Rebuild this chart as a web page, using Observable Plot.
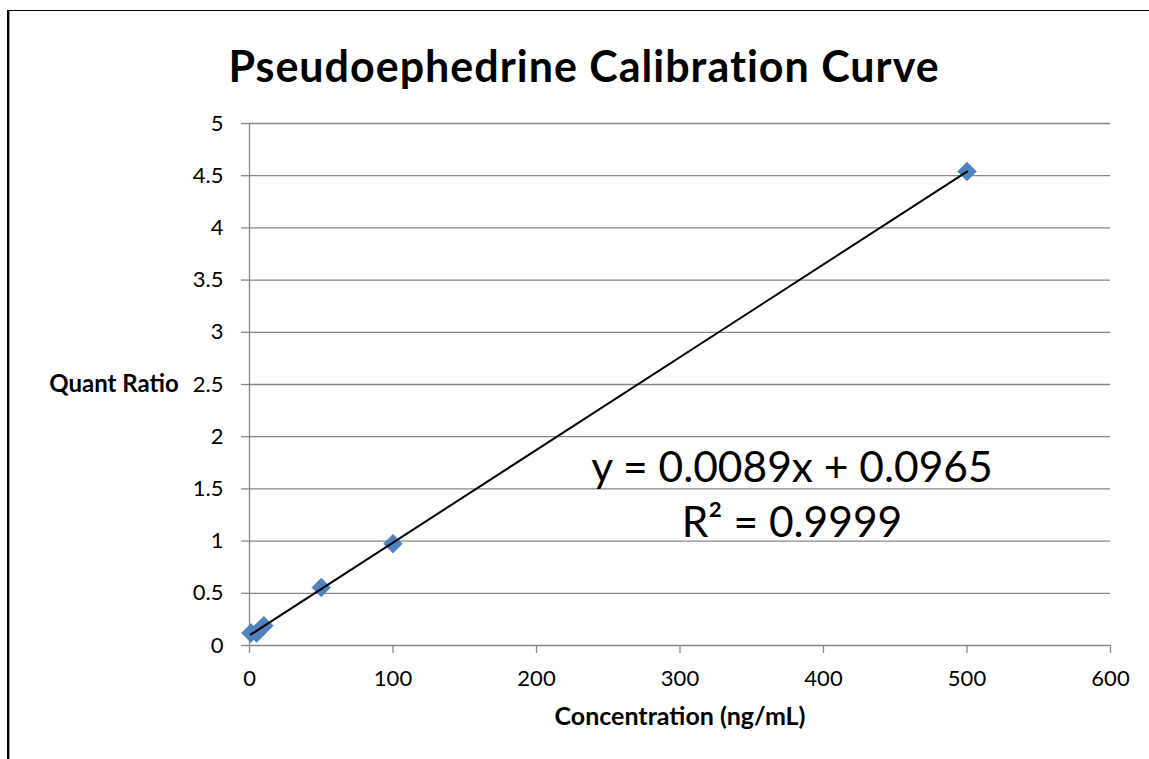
<!DOCTYPE html>
<html>
<head>
<meta charset="utf-8">
<script src="https://cdn.jsdelivr.net/npm/d3@7"></script>
<script src="https://cdn.jsdelivr.net/npm/@observablehq/plot@0.6"></script>
<style>
  html, body { margin: 0; padding: 0; background: #fff; overflow: hidden; }
  #wrap { position: absolute; left: 0; top: 0; width: 1149px; height: 759px; }
  #frame { position: absolute; left: 7px; top: 10px; width: 1200px; height: 800px;
           border-left: 2px solid #000; border-top: 1.5px solid #000; box-shadow: inset 1px 0 0 #999; }
  #chart { position: absolute; left: 0; top: 0; }
</style>
</head>
<body>
<div id="wrap"><div id="frame"></div><div id="chart"></div></div>
<script>
const concentration = [1, 5, 10, 50, 100, 500];
const quantRatio = [0.12, 0.12, 0.19, 0.555, 0.975, 4.54];
const xTicks = [0, 100, 200, 300, 400, 500, 600];
const yTicks = [0, 0.5, 1, 1.5, 2, 2.5, 3, 3.5, 4, 4.5, 5];
const title = "Pseudoephedrine Calibration Curve";
const xLabel = "Concentration (ng/mL)";
const yLabel = "Quant Ratio";
const equation = "y = 0.0089x + 0.0965";
const r2 = "R² = 0.9999";

const data = concentration.map((c, i) => ({x: c, y: quantRatio[i]}));
const font = "Lato, 'Open Sans', sans-serif";
const gray = "#878787";

const chart = Plot.plot({
  width: 1149,
  height: 759,
  marginLeft: 249,
  marginRight: 39,
  marginTop: 123,
  marginBottom: 114,
  style: {fontFamily: font, background: "transparent", overflow: "visible"},
  x: {domain: [0, 600]},
  y: {domain: [0, 5]},
  marks: [
    Plot.gridY(yTicks, {stroke: gray, strokeOpacity: 1, strokeWidth: 1.3}),
    Plot.ruleX([0], {stroke: gray, strokeWidth: 1.3}),
    Plot.axisY(yTicks, {tickSize: 8, tickPadding: 18, stroke: gray, strokeWidth: 1.3, fontSize: 22, fill: "#000", label: null, tickFormat: d => String(d)}),
    Plot.axisX(xTicks, {tickSize: 8, tickPadding: 17, stroke: gray, strokeWidth: 1.3, fontSize: 22, fill: "#000", label: null, tickFormat: d => String(d)}),
    Plot.dot(data, {x: "x", y: "y", symbol: "diamond2", r: 8.5, fill: "#4F81BD", stroke: "#4A7EBB", strokeWidth: 0.5}),
    Plot.linearRegressionY(data, {x: "x", y: "y", ci: 0, stroke: "#000", strokeWidth: 2}),
    Plot.text([title], {frameAnchor: "top", dx: -96, dy: -72, fontSize: 43, fontWeight: "bold", fill: "#000"}),
    Plot.text([yLabel], {frameAnchor: "left", dx: -135.5, fontSize: 24, fontWeight: "bold", fill: "#000", textAnchor: "middle"}),
    Plot.text([xLabel], {frameAnchor: "bottom", dy: 79, fontSize: 25, fontWeight: "bold", fill: "#000"}),
    Plot.text([equation], {x: [378], y: [1.70], fontSize: 42.5, fill: "#000"}),
    Plot.text([r2], {x: [378], y: [1.17], fontSize: 42.5, fill: "#000"})
  ]
});
chart.querySelectorAll("text").forEach(t => {
  if (t.textContent === title) t.setAttribute("letter-spacing", "1");
});
document.getElementById("chart").appendChild(chart);
</script>
</body>
</html>
